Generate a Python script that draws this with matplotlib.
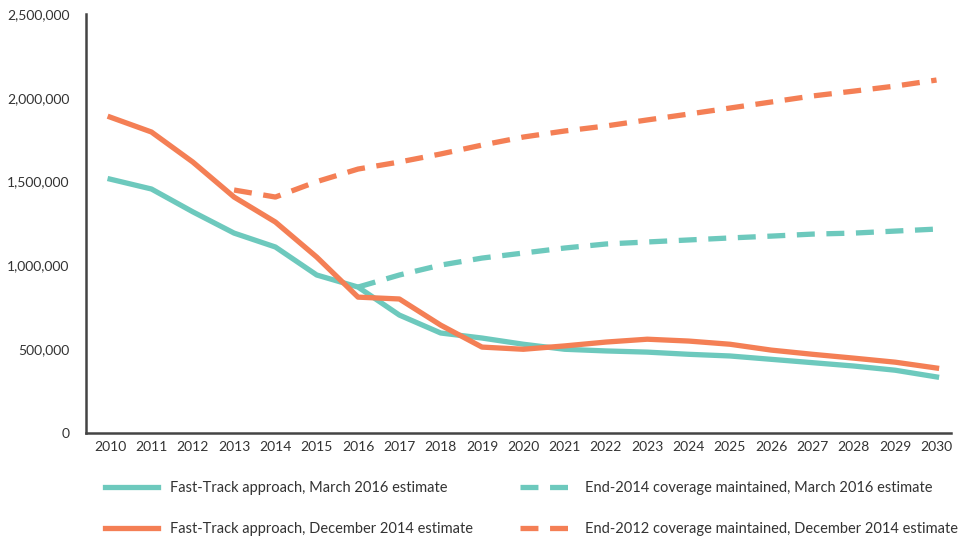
import matplotlib
matplotlib.use("Agg")
import matplotlib.pyplot as plt
from matplotlib.ticker import FuncFormatter

plt.rcParams['font.family'] = ['Lato', 'DejaVu Sans']

years = list(range(2010, 2031))

# Fast-Track approach, March 2016 estimate
fast_2016 = [1515000, 1456000, 1320000, 1193000, 1110000, 943000, 871000,
             704000, 597000, 567000, 530000, 500000, 490000, 483000,
             470000, 460000, 440000, 420000, 400000, 375000, 335000]
# Fast-Track approach, December 2014 estimate
fast_2014 = [1885000, 1796000, 1617000, 1408000, 1259000, 1050000, 811000,
             800000, 644000, 513000, 500000, 520000, 543000, 560000,
             549000, 530000, 495000, 470000, 447000, 423000, 388000]

# End-2014 coverage maintained, March 2016 estimate (from 2016)
cov_years_2016 = list(range(2016, 2031))
cov_2016 = [871000, 943000, 1002000, 1044000, 1074000, 1104000, 1128000,
            1140000, 1152000, 1164000, 1175000, 1187000, 1193000, 1205000,
            1217000]
# End-2012 coverage maintained, December 2014 estimate (from 2013)
cov_years_2014 = list(range(2013, 2031))
cov_2014 = [1450000, 1408000, 1500000, 1575000, 1617000, 1665000, 1718000,
            1766000, 1802000, 1832000, 1868000, 1903000, 1939000, 1975000,
            2011000, 2040000, 2070000, 2106000]

teal = '#6dc9bd'
orange = '#f47f55'

fig = plt.figure(figsize=(9.68, 5.38), dpi=100)
ax = fig.add_axes([0.089, 0.195, 0.893, 0.779])

lw = 3.8
l1, = ax.plot(years, fast_2016, color=teal, lw=lw, solid_joinstyle='round')
l3, = ax.plot(cov_years_2016, cov_2016, color=teal, lw=lw, dashes=(3.4, 2.2))
l2, = ax.plot(years, fast_2014, color=orange, lw=lw, solid_joinstyle='round')
l4, = ax.plot(cov_years_2014, cov_2014, color=orange, lw=lw, dashes=(3.4, 2.2))

ax.set_xlim(2009.42, 2030.34)
ax.set_ylim(0, 2500000)
ax.set_xticks(years)
ax.set_yticks([0, 500000, 1000000, 1500000, 2000000, 2500000])
ax.yaxis.set_major_formatter(FuncFormatter(lambda v, p: f"{int(v):,}"))
ax.tick_params(length=0, labelsize=10, colors='#333333', pad=6)
ax.tick_params(axis='y', pad=12)

for s in ['top', 'right']:
    ax.spines[s].set_visible(False)
for s in ['left', 'bottom']:
    ax.spines[s].set_color('#444444')
    ax.spines[s].set_linewidth(1.8)

fig.legend([l1, l2, l3, l4],
           ['Fast-Track approach, March 2016 estimate',
            'Fast-Track approach, December 2014 estimate',
            'End-2014 coverage maintained, March 2016 estimate',
            'End-2012 coverage maintained, December 2014 estimate'],
           ncol=2, loc='upper left', bbox_to_anchor=(0.095, 0.13),
           frameon=False, fontsize=10.5, handlelength=3.63, handletextpad=0.85,
           columnspacing=3.2, labelspacing=1.86, labelcolor='#333333')

fig.savefig('out.png', dpi=100)
